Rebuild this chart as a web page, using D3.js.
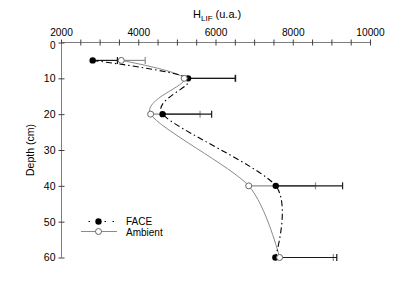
<!DOCTYPE html>
<html><head><meta charset="utf-8">
<script src="https://cdn.jsdelivr.net/npm/d3@7"></script>
<style>body{margin:0;background:#fff}svg{display:block;font-family:"Liberation Sans",Arial,sans-serif}</style>
</head><body><svg id="c" width="406" height="283"></svg>
<script>
const depths = [5, 10, 20, 40, 60];
const faceValues = [2820, 5290, 4630, 7560, 7550];
const ambientValues = [3560, 5190, 4320, 6860, 7660];
const faceErr = [640, 1230, 1270, 1730, 1590];
const ambientErr = [620, 1310, 1280, 1730, 1390];
const xTicks = [2000, 4000, 6000, 8000, 10000];
const yTicks = [0, 10, 20, 30, 40, 50, 60];
const seriesNames = ["FACE", "Ambient"];

const svg = d3.select("#c");
const x = d3.scaleLinear().domain([2000, 10000]).range([61, 370]);
const y = d3.scaleLinear().domain([0, 60]).range([42.5, 257.5]);
const axisCol = "#7f7f7f";

// top axis
const xa = svg.append("g").attr("transform", "translate(0,42.5)")
  .call(d3.axisTop(x).tickValues(d3.range(2000, 10001, 500)).tickSize(3).tickFormat(d => xTicks.includes(d) ? d : ""));
xa.select(".domain").attr("stroke", axisCol).attr("d", `M${x(2000)},0H${x(10000)}`);
xa.selectAll(".tick line").attr("stroke", "#404040").attr("y1", 3).attr("y2", -3);
xa.selectAll(".tick text").attr("font-size", 10.2).attr("y", -7).attr("fill", "#000");

// left axis
const ya = svg.append("g").attr("transform", "translate(61.5,0)")
  .call(d3.axisLeft(y).tickValues(yTicks).tickSize(3));
ya.select(".domain").attr("stroke", axisCol).attr("d", `M0,${y(0)}V${y(60)}`);
ya.selectAll(".tick line").attr("stroke", "#404040").attr("x1", 3).attr("x2", -3);
ya.selectAll(".tick text").attr("font-size", 10.5).attr("x", -6).attr("fill", "#000");
ya.selectAll(".tick text").filter(d => d === 0).attr("font-size", 10).attr("dy", "0.55em");

// titles
const t = svg.append("text").attr("x", 193).attr("y", 18).attr("font-size", 11);
t.append("tspan").text("H");
t.append("tspan").attr("font-size", 8).attr("dy", 3).text("LIF");
t.append("tspan").attr("dy", -3).text(" (u.a.)");
svg.append("text").attr("transform", "translate(34,150) rotate(-90)")
  .attr("text-anchor", "middle").attr("font-size", 10.5).text("Depth (cm)");

const curve = d3.curveCardinal.tension(0.2);
const line = d3.line().x(d => x(d[0])).y(d => y(d[1])).curve(curve);
const faceData = depths.map((d, i) => [faceValues[i], d]);
const ambData = depths.map((d, i) => [ambientValues[i], d]);

// error bars
function errBars(vals, errs, color) {
  depths.forEach((d, i) => {
    const x0 = x(vals[i]), x1 = x(vals[i] + errs[i]), yy = y(d);
    svg.append("line").attr("x1", x0).attr("x2", x1).attr("y1", yy).attr("y2", yy).attr("stroke", color).attr("stroke-width", 1.2);
    svg.append("line").attr("x1", x1).attr("x2", x1).attr("y1", yy - 3.5).attr("y2", yy + 3.5).attr("stroke", color).attr("stroke-width", 1.2);
  });
}
errBars(ambientValues, ambientErr, "#8c8c8c");
errBars(faceValues, faceErr, "#1a1a1a");

svg.append("path").attr("d", line(ambData)).attr("fill", "none").attr("stroke", "#8a8a8a").attr("stroke-width", 1);
svg.append("path").attr("d", line(faceData)).attr("fill", "none").attr("stroke", "#000").attr("stroke-width", 1.1).attr("stroke-dasharray", "6,3,1.5,3");

svg.selectAll(".fp").data(faceData).enter().append("circle").attr("cx", d => x(d[0])).attr("cy", d => y(d[1])).attr("r", 3.2).attr("fill", "#000");
svg.selectAll(".ap").data(ambData).enter().append("circle").attr("cx", d => x(d[0])).attr("cy", d => y(d[1])).attr("r", 3).attr("fill", "#fff").attr("stroke", "#666").attr("stroke-width", 1);

// legend
const lg = svg.append("g");
lg.append("line").attr("x1", 83).attr("x2", 114).attr("y1", 221.5).attr("y2", 221.5).attr("stroke", "#000").attr("stroke-dasharray", "1.5,6.5").attr("stroke-dashoffset", -5.5);
lg.append("circle").attr("cx", 98.5).attr("cy", 221.5).attr("r", 3.2).attr("fill", "#000");
lg.append("line").attr("x1", 81).attr("x2", 117).attr("y1", 231.5).attr("y2", 231.5).attr("stroke", "#8a8a8a");
lg.append("circle").attr("cx", 98.5).attr("cy", 231.5).attr("r", 3).attr("fill", "#fff").attr("stroke", "#666");
lg.append("text").attr("x", 126).attr("y", 225).attr("font-size", 10).text(seriesNames[0]);
lg.append("text").attr("x", 126).attr("y", 235.5).attr("font-size", 10).text(seriesNames[1]);
</script></body></html>
